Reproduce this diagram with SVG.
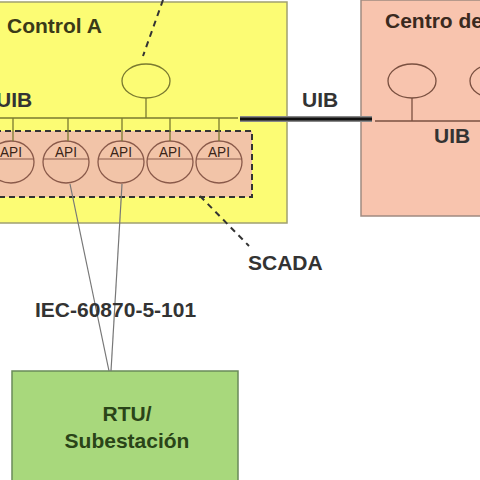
<svg xmlns="http://www.w3.org/2000/svg" width="480" height="480" viewBox="0 0 480 480">
<style>
.t{font-family:"Liberation Sans",Arial,sans-serif;font-weight:bold;font-size:21px;fill:#333}
.api{font-family:"Liberation Sans",Arial,sans-serif;font-size:14px;fill:#3a2418}
.apic{fill:#f2c4a8;stroke:#8a5a4a;stroke-width:1.3}
.wire{stroke:#7a7a30;stroke-width:1.3;fill:none}
</style>
<rect width="480" height="480" fill="#ffffff"/>
<g id="controlA">
<rect x="-5" y="2" width="292" height="221" fill="#fcfc74" stroke="#a0a070" stroke-width="1.5"/>
<text class="t" x="7" y="33" style="fill:#3a3a18">Control A</text>
<text class="t" x="-4" y="107">UIB</text>
<ellipse cx="146" cy="81" rx="24" ry="17" fill="#fcfc74" stroke="#7a7a30" stroke-width="1.3"/>
</g>
<g id="centro">
<rect x="361" y="0" width="125" height="216" fill="#f8c4ae" stroke="#a08a80" stroke-width="1.5"/>
<text class="t" x="385" y="28" style="fill:#3a2a20">Centro de</text>
<ellipse cx="412" cy="81" rx="24" ry="17" fill="#f8c4ae" stroke="#7a5040" stroke-width="1.3"/>
<ellipse cx="494" cy="81" rx="24" ry="17" fill="#f8c4ae" stroke="#7a5040" stroke-width="1.3"/>
<line x1="375" y1="121" x2="480" y2="121" stroke="#7a5040" stroke-width="1.3"/>
<line x1="412" y1="98" x2="412" y2="121" stroke="#7a5040" stroke-width="1.3"/>
<text class="t" x="434" y="143">UIB</text>
</g>
<g id="scada">
<rect x="-5" y="131" width="257" height="66" fill="#f2c4a8" stroke="#333" stroke-width="2" stroke-dasharray="6,4"/>
<g id="api1"><ellipse class="apic" cx="11" cy="162" rx="23" ry="21"/><line x1="-12" y1="159" x2="34" y2="159" stroke="#8a5a4a" stroke-width="1.2"/><text class="api" x="11" y="157" text-anchor="middle" textLength="22" lengthAdjust="spacingAndGlyphs">API</text></g>
<g id="api2"><ellipse class="apic" cx="66" cy="162" rx="23" ry="21"/><line x1="43" y1="159" x2="89" y2="159" stroke="#8a5a4a" stroke-width="1.2"/><text class="api" x="66" y="157" text-anchor="middle" textLength="22" lengthAdjust="spacingAndGlyphs">API</text></g>
<g id="api3"><ellipse class="apic" cx="121" cy="162" rx="23" ry="21"/><line x1="98" y1="159" x2="144" y2="159" stroke="#8a5a4a" stroke-width="1.2"/><text class="api" x="121" y="157" text-anchor="middle" textLength="22" lengthAdjust="spacingAndGlyphs">API</text></g>
<g id="api4"><ellipse class="apic" cx="170" cy="162" rx="23" ry="21"/><line x1="147" y1="159" x2="193" y2="159" stroke="#8a5a4a" stroke-width="1.2"/><text class="api" x="170" y="157" text-anchor="middle" textLength="22" lengthAdjust="spacingAndGlyphs">API</text></g>
<g id="api5"><ellipse class="apic" cx="219" cy="162" rx="23" ry="21"/><line x1="196" y1="159" x2="242" y2="159" stroke="#8a5a4a" stroke-width="1.2"/><text class="api" x="219" y="157" text-anchor="middle" textLength="22" lengthAdjust="spacingAndGlyphs">API</text></g>
</g>
<g id="rtu">
<rect x="12" y="371" width="226" height="120" fill="#a8d87c" stroke="#6a8a5a" stroke-width="1.5"/>
<text class="t" x="127" y="421" text-anchor="middle" style="fill:#2a4418">RTU/</text>
<text class="t" x="127" y="448" text-anchor="middle" style="fill:#2a4418">Subestación</text>
</g>
<g id="connectors">
<line class="wire" x1="0" y1="118" x2="238" y2="118"/>
<line class="wire" x1="146" y1="98" x2="146" y2="118"/>
<line class="wire" x1="13" y1="118" x2="13" y2="141"/>
<line class="wire" x1="68" y1="118" x2="68" y2="141"/>
<line class="wire" x1="122" y1="118" x2="122" y2="141"/>
<line class="wire" x1="170" y1="118" x2="170" y2="141"/>
<line class="wire" x1="219" y1="118" x2="219" y2="141"/>
<line x1="240" y1="119" x2="372" y2="119" stroke="#888" stroke-width="6"/>
<line x1="240" y1="119" x2="372" y2="119" stroke="#111" stroke-width="3"/>
<line x1="163" y1="0" x2="143" y2="56" stroke="#333" stroke-width="2" stroke-dasharray="6,5"/>
<line x1="200" y1="196" x2="249" y2="246" stroke="#333" stroke-width="2" stroke-dasharray="6,5"/>
<line x1="70" y1="184" x2="109" y2="371" stroke="#777" stroke-width="1.2"/>
<line x1="122" y1="184" x2="111" y2="371" stroke="#777" stroke-width="1.2"/>
</g>
<text class="t" x="302" y="107">UIB</text>
<text class="t" x="248" y="270">SCADA</text>
<text class="t" x="35" y="317">IEC-60870-5-101</text>
</svg>
